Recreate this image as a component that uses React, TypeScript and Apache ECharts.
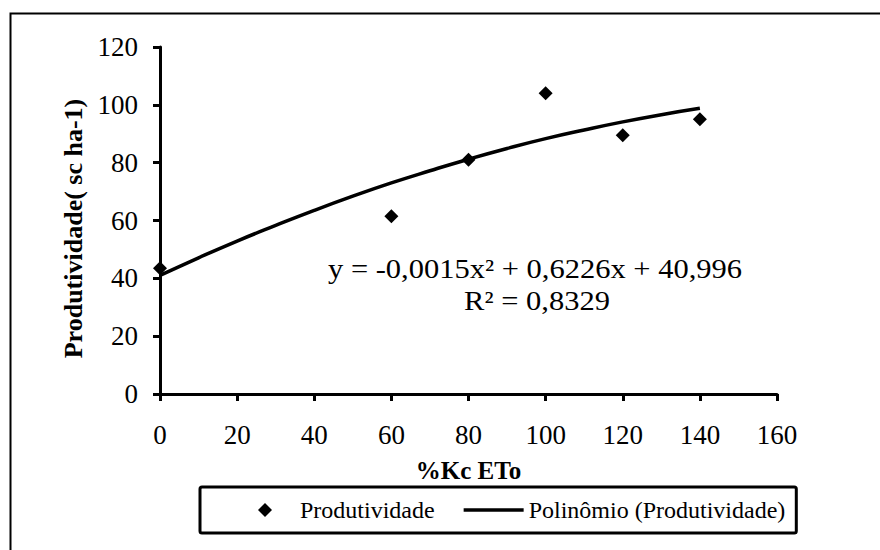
import React, { useEffect, useRef } from "react";
import * as echarts from "echarts";

// Observed data points (%Kc ETo, Produtividade)
const xValues = [0, 60, 80, 100, 120, 140];
const yValues = [43.5, 61.5, 81, 104, 89.5, 95];

// Trend line values
const trendX = [0, 10, 20, 30, 40, 50, 60, 70, 80, 90, 100, 110, 120, 130, 140];
const trendY = [41.0, 47.1, 52.9, 58.3, 63.5, 68.4, 73.0, 77.2, 81.2, 84.9, 88.3, 91.3, 94.1, 96.6, 98.8];

const seriesNames = ["Produtividade", "Polinômio (Produtividade)"];
const xAxisTitle = "%Kc ETo";
const yAxisTitle = "Produtividade( sc ha-1)";
const equationLine = "y = -0,0015x² + 0,6226x + 40,996";
const r2Line = "R² = 0,8329";

const FONT = "Liberation Serif";

const DIAMOND_ICON = "path://M0,0 M60,14 M30,0 L37,7 L30,14 L23,7 Z";
const LINE_ICON = "path://M0,0 M60,14 M0,5.3 L60,5.3 L60,8.7 L0,8.7 Z";

export default function App() {
  const ref = useRef<HTMLDivElement>(null);

  useEffect(() => {
    if (!ref.current) return;
    const chart = echarts.init(ref.current, undefined, { renderer: "svg" });
    const scatterData = xValues.map((x, i) => [x, yValues[i]]);
    const trendData = trendX.map((x, i) => [x, trendY[i]]);

    chart.setOption({
      animation: false,
      backgroundColor: "#ffffff",
      textStyle: { fontFamily: FONT, color: "#000" },
      grid: { left: 160, right: 103, top: 47, bottom: 156, containLabel: false },
      xAxis: {
        type: "value",
        min: 0,
        max: 160,
        interval: 20,
        name: xAxisTitle,
        nameLocation: "middle",
        nameGap: 64,
        nameTextStyle: { fontFamily: FONT, fontSize: 25, fontWeight: "bold", color: "#000" },
        axisLine: { show: true, onZero: false, lineStyle: { color: "#000", width: 3 } },
        axisTick: { show: true, inside: false, length: 7, lineStyle: { color: "#000", width: 3 } },
        axisLabel: { fontFamily: FONT, fontSize: 27, color: "#000", margin: 27 },
        splitLine: { show: false },
      },
      yAxis: {
        type: "value",
        min: 0,
        max: 120,
        interval: 20,
        name: yAxisTitle,
        nameLocation: "middle",
        nameGap: 68,
        nameRotate: 90,
        nameTextStyle: {
          fontFamily: FONT,
          fontSize: 26,
          fontWeight: "bold",
          color: "#000",
          padding: [0, 16, 0, 0],
        },
        axisLine: { show: true, onZero: false, lineStyle: { color: "#000", width: 3 } },
        axisTick: { show: true, inside: false, length: 7, lineStyle: { color: "#000", width: 3 } },
        axisLabel: { fontFamily: FONT, fontSize: 27, color: "#000", margin: 22 },
        splitLine: { show: false },
      },
      legend: {
        left: 200,
        top: 487,
        orient: "horizontal",
        itemWidth: 60,
        itemHeight: 14,
        itemGap: 29,
        padding: [11, 11, 11, 35],
        borderColor: "#000",
        borderWidth: 3,
        borderRadius: 2,
        textStyle: { fontFamily: FONT, fontSize: 24, color: "#000" },
        data: [
          { name: seriesNames[0], icon: DIAMOND_ICON, itemStyle: { color: "#000", opacity: 1 } },
          { name: seriesNames[1], icon: LINE_ICON, itemStyle: { color: "#000", borderWidth: 0 } },
        ],
      },
      series: [
        {
          name: seriesNames[0],
          type: "scatter",
          symbol: "diamond",
          symbolSize: 14,
          itemStyle: { color: "#000", opacity: 1 },
          data: scatterData,
          z: 2,
        },
        {
          name: seriesNames[1],
          type: "line",
          smooth: true,
          symbol: "none",
          showSymbol: false,
          lineStyle: { color: "#000", width: 3.5 },
          itemStyle: { color: "#000" },
          data: trendData,
          z: 3,
        },
      ],
      graphic: [
        {
          type: "rect",
          left: 8,
          top: 11,
          shape: { x: 0, y: 0, width: 1000, height: 1000 },
          style: { fill: "none", stroke: "#000", lineWidth: 2 },
          silent: true,
          z: -1,
        },
        {
          type: "text",
          x: 535,
          y: 269,
          scaleX: 1.13,
          style: {
            text: equationLine,
            fontFamily: FONT,
            fontSize: 27,
            fill: "#000",
            textAlign: "center",
            textVerticalAlign: "middle",
          },
        },
        {
          type: "text",
          x: 537,
          y: 301,
          scaleX: 1.13,
          style: {
            text: r2Line,
            fontFamily: FONT,
            fontSize: 27,
            fill: "#000",
            textAlign: "center",
            textVerticalAlign: "middle",
          },
        },
      ],
    });

    return () => chart.dispose();
  }, []);

  return (
    <div
      ref={ref}
      style={{ position: "absolute", left: 0, top: 0, width: 880, height: 550 }}
    />
  );
}
